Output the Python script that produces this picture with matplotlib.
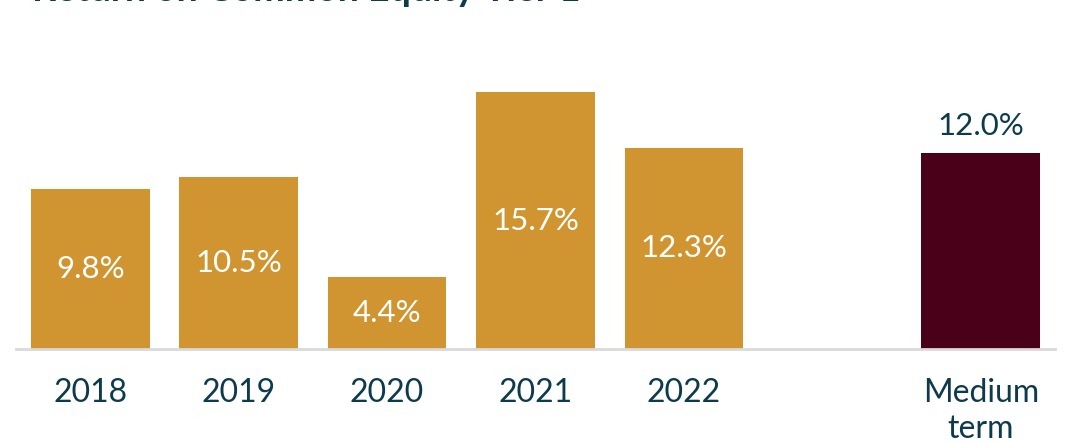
import numpy as np
import matplotlib
matplotlib.use("Agg")
import matplotlib.pyplot as plt

plt.rcParams['font.family'] = ['Lato', 'DejaVu Sans']

categories = ['2018', '2019', '2020', '2021', '2022', 'Medium\nterm']
values = [9.8, 10.5, 4.4, 15.7, 12.3, 12.0]
positions = [0, 1, 2, 3, 4, 6]
labels = ['9.8%', '10.5%', '4.4%', '15.7%', '12.3%', '12.0%']

gold = '#D09530'
maroon = '#4A0019'
ink = '#0D3B4C'

fig = plt.figure(figsize=(10.68, 4.43), dpi=100)
ax = fig.add_axes([16 / 1068, 1 - 349 / 443, 1039 / 1068, 349 / 443])

colors = [gold] * 5 + [maroon]
bars = ax.bar(positions, values, width=0.8, color=colors, zorder=2)

for i, (p, v, lab) in enumerate(zip(positions, values, labels)):
    if i < 5:
        ax.text(p, v / 2, lab, ha='center', va='center', color='white', fontsize=22.5)
    else:
        ax.text(p, v + 0.8, lab, ha='center', va='bottom', color=ink, fontsize=22.5)

ax.set_xlim(-0.5, 6.5)
ax.set_ylim(0, 349 / 16.36)
ax.set_xticks(positions)
ax.set_xticklabels(categories, fontsize=23, color=ink, linespacing=1.25)
ax.tick_params(axis='x', length=0, pad=21)
ax.set_yticks([])
for side in ['top', 'right', 'left']:
    ax.spines[side].set_visible(False)
ax.spines['bottom'].set_color('#D9D9D9')
ax.spines['bottom'].set_linewidth(2)

fig.text(32 / 1068, 1 - 1 / 443, 'Return on Common Equity Tier 1', fontsize=27,
         fontweight='bold', color=ink, ha='left', va='baseline')

fig.savefig('out.png', dpi=100)
